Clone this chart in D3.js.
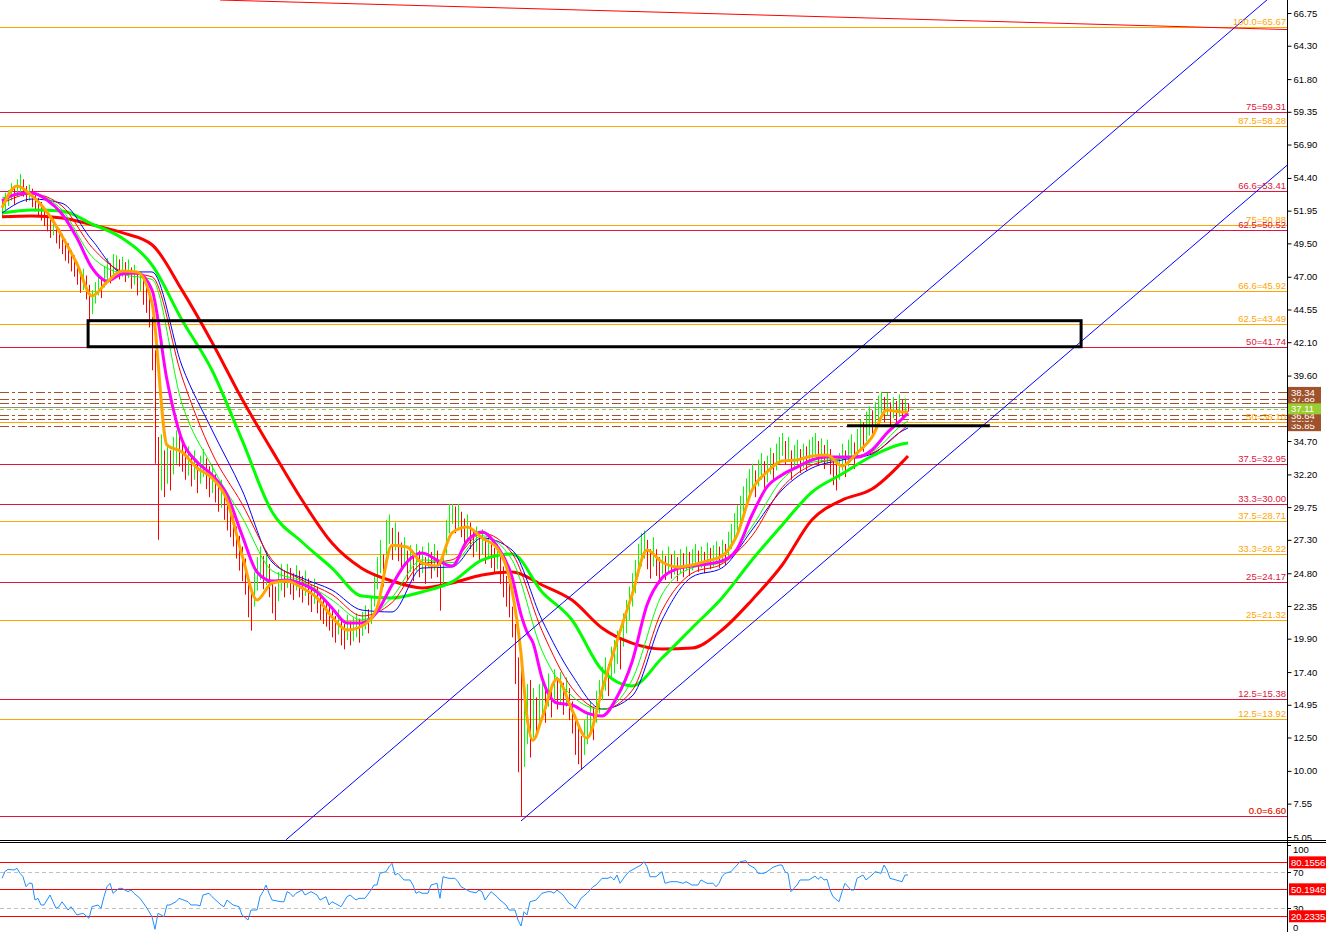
<!DOCTYPE html>
<html><head><meta charset="utf-8">
<script src="https://cdn.jsdelivr.net/npm/d3@7"></script>
<style>html,body{margin:0;padding:0;background:#fff;overflow:hidden}svg{display:block}</style>
</head><body>
<script>
// ---------------- DATA ----------------
const barHigh = [
52.8,53.3,53.5,54.0,53.7,54.3,54.7,54.3,53.8,53.9,
53.6,53.2,52.9,52.6,52.2,51.8,51.4,51.5,50.9,50.6,
50.2,49.8,49.5,49.0,48.6,48.1,47.5,47.6,47.1,46.4,
46.0,46.6,47.2,47.0,47.8,48.4,48.0,48.7,48.6,48.3,
48.5,48.1,48.3,47.7,47.9,47.3,47.4,46.8,46.2,45.6,
44.0,41.5,35.0,35.2,34.0,34.5,34.0,35.0,35.5,35.2,
34.6,34.0,34.3,33.5,34.0,33.0,33.6,34.1,33.4,32.8,
32.9,32.2,31.5,31.8,30.9,30.3,29.8,29.1,28.3,27.6,
26.8,25.9,24.5,23.6,24.9,26.0,26.8,26.1,26.4,25.5,
24.3,23.8,24.9,25.5,25.0,25.5,25.2,24.8,25.4,25.0,
24.6,25.0,24.4,23.9,24.4,23.8,23.3,23.0,22.8,22.5,
22.0,21.6,22.1,21.3,21.0,21.7,21.2,21.5,21.8,21.4,
21.9,22.4,22.1,23.0,24.7,26.0,27.3,26.2,28.8,29.2,
28.2,28.6,27.9,27.1,27.5,26.5,26.9,26.3,27.0,26.5,
26.8,26.0,27.1,26.4,27.0,26.5,25.6,26.4,28.8,30.0,
30.0,29.8,30.0,29.4,28.9,29.2,28.6,28.0,28.3,27.8,
28.1,27.4,27.8,27.1,26.7,27.0,26.0,25.3,24.6,24.0,
22.3,21.0,18.5,18.3,15.5,16.5,16.8,16.2,15.5,16.5,
16.8,16.2,17.3,16.5,17.6,17.0,17.4,16.6,17.0,16.2,
15.2,13.8,13.2,12.6,13.8,14.4,15.2,14.8,16.0,16.8,
17.8,18.5,18.0,19.3,19.8,20.5,20.0,21.8,22.8,23.8,
24.8,25.8,27.0,27.8,28.0,27.3,26.6,27.5,26.6,26.0,
26.5,26.1,26.8,26.2,26.5,26.0,26.6,26.3,26.8,26.4,
26.6,27.0,26.5,26.8,26.4,27.1,26.7,26.9,27.2,26.8,
27.3,27.0,27.9,28.5,29.3,29.9,30.6,31.3,31.9,32.6,
33.0,32.5,33.3,33.8,33.2,33.6,34.2,33.8,34.5,35.0,
35.3,34.7,35.0,34.0,34.4,34.8,34.1,34.5,34.3,34.8,
35.0,35.3,34.7,34.9,34.4,34.8,34.1,33.5,33.0,33.8,
34.5,34.0,34.8,35.2,34.6,35.6,36.3,36.1,36.9,37.3,
37.0,37.6,38.1,38.4,38.0,38.3,37.6,38.0,37.7,38.2,
37.8,37.9,37.5];
const barLow = [
51.5,52.0,52.3,52.7,52.4,53.0,53.3,53.0,52.6,52.7,
52.2,51.9,51.5,51.2,50.8,50.4,49.9,50.1,49.5,49.1,
48.7,48.2,48.0,47.4,47.0,46.4,45.8,46.0,45.3,43.6,
44.2,45.0,45.6,45.4,46.2,46.8,46.5,47.1,47.2,46.8,
47.0,46.6,46.9,46.1,46.4,45.6,45.9,44.9,44.3,43.2,
40.0,33.0,27.3,31.0,30.5,31.5,31.0,32.2,33.0,32.8,
32.4,31.8,32.1,31.3,31.8,30.8,31.5,32.0,31.1,30.5,
30.8,30.1,29.4,29.7,28.8,28.0,27.5,26.8,25.9,25.0,
24.2,23.2,21.5,20.5,22.3,23.5,24.3,23.6,23.9,23.0,
21.8,21.3,22.7,23.5,23.0,23.7,23.2,22.8,23.5,23.0,
22.6,23.1,22.4,21.9,22.5,21.8,21.3,21.0,20.8,20.5,
20.0,19.6,20.2,19.4,19.1,19.8,19.4,19.7,20.0,19.6,
20.1,20.6,20.3,21.0,22.3,23.6,24.8,23.8,26.2,27.0,
25.8,26.5,25.7,24.9,25.5,24.3,24.9,24.2,25.0,24.5,
24.8,24.0,25.2,24.4,25.0,24.5,22.0,24.0,26.2,27.8,
28.5,27.8,28.2,27.5,26.9,27.3,26.6,26.0,26.4,25.8,
26.2,25.5,25.9,25.2,24.8,25.1,24.0,23.0,22.3,21.5,
20.0,16.5,9.9,6.6,10.3,12.0,11.0,12.5,12.5,13.5,
14.2,13.6,14.8,14.0,15.2,14.6,15.0,14.2,14.8,13.8,
12.8,11.2,10.5,10.1,11.2,12.0,12.8,12.3,13.6,14.3,
15.3,16.0,15.6,16.8,17.3,18.0,17.6,19.3,20.3,21.3,
22.3,23.3,24.6,25.3,25.9,25.1,24.4,25.3,24.6,24.0,
24.7,24.3,24.9,24.4,24.7,24.2,24.8,24.5,25.0,24.6,
25.0,25.4,24.9,25.2,24.8,25.5,25.1,25.3,25.6,25.2,
25.7,25.4,26.1,26.6,27.2,27.8,28.5,29.2,29.8,30.5,
31.0,30.5,31.3,31.8,31.2,31.6,32.2,31.8,32.5,33.0,
33.6,32.9,33.3,31.8,32.6,33.0,32.3,32.7,32.5,33.0,
33.3,33.6,32.9,33.1,32.6,33.0,32.2,31.4,31.0,31.8,
32.5,32.0,32.8,33.2,32.6,33.4,34.1,33.9,34.7,35.1,
35.0,35.6,36.2,36.8,36.1,36.6,35.9,36.4,36.0,36.5,
36.3,36.6,36.9];

// moving averages (bar index samples)
const maFastIdx = [0,5,10,15,20,25,30,35,40,45,50,55,60,65,70,75,80,85,90,95,100,105,110,115,120,125,130,135,140,145,150,155,160,165,170,173,175,177,180,185,190,195,200,205,210,215,220,225,230,235,240,245,250,255,260,265,270,275,280,285,290,295,300,302];
const maOrange = [52.15,53.8,53.05,51.85,50.05,47.96,45.56,46.6,47.43,47.36,
45.03,34.4,33.88,32.68,31.93,30.28,26.17,22.8,24.07,24.22,
23.7,22.95,21.52,20.55,20.85,22.2,26.9,26.76,25.57,25.34,
27.82,28.26,27.44,26.69,23.54,18.8,14.04,12.3,13.96,16.88,14.56,12.46,
16.05,19.73,23.17,26.54,25.64,25.27,25.42,25.72,26.09,27.66,
31.03,32.38,33.2,33.28,33.58,33.65,32.83,33.8,35.0,37.02,36.87,36.87];
const maMagenta = [52.67,53.2,53.27,52.75,51.7,49.9,47.66,46.68,47.21,47.28,
46.01,39.27,34.78,33.13,32.16,30.66,27.66,24.89,24.22,24.3,
24.0,23.39,22.2,21.07,21.07,21.9,23.92,25.64,26.31,25.79,
25.34,27.21,27.89,26.84,24.52,21.7,20.4,19.6,16.96,15.08,14.93,14.33,
14.11,15.53,18.15,22.42,24.44,25.12,25.34,25.49,25.72,26.61,
29.16,31.26,32.16,32.75,33.28,33.5,33.5,33.5,34.03,35.3,36.35,36.8];
const maSlowIdx = [0,10,20,30,40,50,60,70,80,90,100,110,120,130,140,150,160,170,180,190,200,210,220,230,240,250,260,270,280,290,300,302];
const maThinGreen = [52.9,53.2,52.0,48.5,47.2,46.8,37.5,32.8,29.0,25.0,24.2,22.8,21.3,23.0,25.8,25.6,27.6,25.8,19.0,15.6,14.6,16.8,23.2,25.2,25.6,28.3,31.8,33.1,33.4,33.9,35.9,36.2];
const maThinRed = [52.5,53.2,52.3,49.2,47.4,47.0,39.5,33.8,30.0,25.8,24.3,23.2,21.6,22.6,25.5,25.8,27.8,26.3,20.5,16.2,14.6,16.0,22.0,24.8,25.5,27.6,31.2,32.9,33.4,33.8,35.5,35.9];
const maBlue = [51.77,52.82,52.5,49.75,47.36,47.36,40.32,35.53,31.03,25.64,24.44,23.54,22.04,21.9,25.19,25.27,27.44,26.54,21.3,17.18,14.63,15.6,21.3,24.52,25.2,28.04,31.03,32.68,33.28,33.73,35.45,35.68];
const maThickGreen = [51.77,52.0,51.92,50.95,49.9,47.88,43.76,40.0,34.78,29.4,27.14,25.19,23.1,22.95,23.4,24.15,25.79,26.24,23.4,21.3,17.55,16.36,18.45,20.7,22.95,25.79,28.4,30.88,32.23,33.58,34.48,34.55];
const maThickRed = [51.5,51.55,51.4,50.9,50.3,49.4,46.0,42.1,37.85,34.0,30.28,27.06,25.16,24.22,23.7,24.07,24.67,24.89,23.92,22.79,20.7,19.57,19.13,19.2,20.55,22.8,25.4,28.8,30.28,31.1,33.1,33.58];

// fibonacci sets
const fibRedLevels = ["0.0","12.5","25","33.3","37.5","50","62.5","66.6","75"];
const fibRedPrices = [6.60,15.38,24.17,30.00,32.95,41.74,50.52,53.41,59.31];
const fibOrangeLevels = ["0.0","12.5","25","33.3","37.5","50","62.5","66.6","75","87.5","100.0"];
const fibOrangePrices = [6.60,13.92,21.32,26.22,28.71,36.10,43.49,45.92,50.88,58.28,65.67];

// price levels near current price
const brownLevels = [37.57,37.88,38.34,35.85,36.37,36.64];
const currentPrice = 37.11;
const greyLine = 37.23;

// drawn objects: [barIndex, price]
const channelUpper = [[94.6,4.83],[421.6,67.72]];
const channelLower = [[173.0,6.25],[428.2,55.32]];
const topTrend = [[72.7,67.72],[428.3,65.51]];
const boxZone = [[28.7,43.71],[359.7,41.76]];
const supportSeg = [[281.7,35.85],[329.3,35.85]];

const priceTicks = [66.75,64.30,61.80,59.35,56.90,54.40,51.95,49.50,47.00,44.55,42.10,39.60,37.15,34.70,32.20,29.75,27.30,24.80,22.35,19.90,17.40,14.95,12.50,10.00,7.55,5.05];

// RSI [barIndex, value]
const rsi = [[0,62.4],[1,70],[2,72.4],[4,71.7],[5,73.5],[6,68],[7,64.2],[8,53.1],[9,56.9],[10,56.9],[11,38.3],[12,40.2],[13,32.8],[14,32.8],[16,43.9],[17,36.4],[18,29.1],[19,30.9],[20,36.4],[22,27.2],[23,30.9],[25,21.7],[27,23.6],[29,18],[30,30.9],[32,32.8],[33,29.1],[34,42],[35,53.1],[36,56.9],[37,45.8],[39,51.3],[40,51.3],[42,47.6],[43,49.4],[44,45.8],[46,40.2],[48,30.9],[50,19.8],[51,5.8],[52,23.6],[54,19.8],[55,32.8],[56,32.8],[58,36.4],[59,40.2],[62,36.4],[63,32.8],[65,32.8],[66,31.7],[67,43.9],[69,45.8],[70,42],[73,32.8],[74,30.9],[75,38.3],[77,32.8],[79,30.9],[80,21.7],[82,16.1],[83,27.2],[85,27.2],[86,42],[87,47.6],[88,55],[89,45.8],[90,38.3],[93,36.4],[94,36.4],[95,47.6],[96,45.8],[97,42],[98,45.8],[100,49.4],[101,43.9],[103,47.6],[105,43.9],[106,38.3],[108,42],[109,32.8],[110,36.4],[112,32.8],[113,30.9],[115,42],[116,43.9],[118,38.3],[119,40.2],[121,40.2],[123,49.4],[124,55],[125,55],[126,68],[128,69.8],[129,75.3],[130,79.1],[131,66.1],[132,68],[134,60.6],[136,60.6],[137,55],[138,45.8],[139,47.6],[140,45.8],[142,45.8],[143,55],[145,56.9],[146,40.2],[147,64.2],[149,62.4],[151,62.4],[152,58.7],[153,53.1],[154,51.3],[156,47.6],[158,46.4],[159,49.4],[160,47.6],[161,38.3],[163,47.6],[165,42],[166,38.3],[168,32.8],[169,27.2],[171,27.2],[172,16.1],[173,9.4],[174,25.3],[175,21.7],[176,36.4],[178,38.3],[180,45.8],[182,47.6],[183,47.6],[184,45.8],[185,49.4],[187,43.9],[189,34.7],[190,32.8],[191,29.1],[192,34.7],[193,40.2],[195,45.8],[197,53.1],[198,55],[200,62.4],[202,62.4],[203,64.2],[204,60.6],[205,66.1],[206,56.9],[208,66.1],[209,69.8],[211,73.5],[213,77.2],[214,80.9],[215,75.3],[216,64.2],[218,64.2],[220,69.8],[221,56.9],[223,58.7],[225,58.7],[227,56.9],[228,58.7],[230,55],[232,55],[233,60.6],[235,56.9],[237,56.9],[238,53.1],[239,56.9],[240,64.2],[241,68],[243,69.8],[245,77.2],[246,80.9],[248,82],[249,77.2],[251,73.5],[252,68],[254,68],[255,69.8],[257,74.7],[259,77.2],[260,77.2],[261,69.8],[262,68],[263,47.6],[265,55],[266,60.6],[268,60.6],[269,60.6],[271,65],[272,61.3],[273,64.2],[274,60.6],[275,61.3],[276,49.4],[277,42],[279,36.4],[280,47.6],[281,56.9],[283,49.4],[284,49.4],[285,62.4],[287,66.1],[288,60.6],[290,66.1],[291,69.8],[293,68],[294,77.2],[295,71.7],[296,62.4],[298,60.6],[300,58.7],[301,66.1],[302,66.1]];
const rsiLevels = [80.1556,50.1946,20.2335];
const rsiDashed = [70,30];
const rsiTicks = [100,70,30,0];

// ---------------- CHART ----------------
const W = 1326, H = 932, AX = 1287, MAIN_B = 840, RSI_T = 843;
const FONT = "'Liberation Sans', Arial, sans-serif";
const svg = d3.select("body").append("svg").attr("width", W).attr("height", H)
  .style("font-family", FONT).style("font-size", "9.5px");

const x = d3.scaleLinear().domain([0, 302]).range([2, 908]);
const y = d3.scaleLinear().domain([5.05, 66.75]).range([837, 13]);
const yr = d3.scaleLinear().domain([0, 100]).range([934.5, 844.5]);
const cy = v => Math.round(y(v)) + 0.5;
const cx = i => Math.round(x(i)) + 0.5;

const defs = svg.append("defs");
defs.append("clipPath").attr("id", "cm").append("rect").attr("x", 0).attr("y", 0).attr("width", AX).attr("height", MAIN_B);
defs.append("clipPath").attr("id", "cr").append("rect").attr("x", 0).attr("y", RSI_T).attr("width", AX).attr("height", H - RSI_T);

const gm = svg.append("g").attr("clip-path", "url(#cm)");

// fib lines
const RED = "#E0143C", ORANGE = "#FFA500";
fibOrangePrices.forEach(p => gm.append("line").attr("x1", 0).attr("x2", AX).attr("y1", cy(p)).attr("y2", cy(p)).attr("stroke", ORANGE));
fibRedPrices.forEach(p => gm.append("line").attr("x1", 0).attr("x2", AX).attr("y1", cy(p)).attr("y2", cy(p)).attr("stroke", RED));

// brown dash-dot levels, grey line, current price
brownLevels.forEach(p => gm.append("line").attr("x1", 0).attr("x2", AX).attr("y1", cy(p)).attr("y2", cy(p))
  .attr("stroke", "#A0522D").attr("stroke-dasharray", "9,3,3,3"));
gm.append("line").attr("x1", 0).attr("x2", AX).attr("y1", cy(greyLine)).attr("y2", cy(greyLine)).attr("stroke", "#8c8c8c");
gm.append("line").attr("x1", 0).attr("x2", AX).attr("y1", cy(currentPrice)).attr("y2", cy(currentPrice))
  .attr("stroke", "#9ACD32").attr("stroke-dasharray", "4,3");

// bars
gm.append("g").selectAll("line").data(barHigh).join("line")
  .attr("x1", (d, i) => cx(i)).attr("x2", (d, i) => cx(i))
  .attr("y1", (d, i) => y(barLow[i])).attr("y2", d => y(d))
  .attr("stroke", (d, i) => {
    if (i === 0) return "#00FF00";
    const m = (d + barLow[i]) / 2, pm = (barHigh[i - 1] + barLow[i - 1]) / 2;
    return m >= pm ? "#00FF00" : "#FF0000";
  }).attr("stroke-width", 1);

// moving averages
function ma(idx, vals, color, w) {
  const line = d3.line().x((d, i) => x(idx[i])).y(d => y(d)).curve(d3.curveMonotoneX);
  gm.append("path").attr("d", line(vals)).attr("fill", "none").attr("stroke", color).attr("stroke-width", w)
    .attr("stroke-linejoin", "round");
}
ma(maSlowIdx, maThickRed, "#FF0000", 3);
ma(maSlowIdx, maThickGreen, "#00FF00", 3);
ma(maSlowIdx, maBlue, "#0000FF", 1);
ma(maSlowIdx, maThinRed, "#FF0000", 1);
ma(maSlowIdx, maThinGreen, "#00FF00", 1);
ma(maFastIdx, maMagenta, "#FF00FF", 3);
ma(maFastIdx, maOrange, "#FFA500", 3);

function seg(sg, color, w) {
  gm.append("line").attr("x1", x(sg[0][0])).attr("y1", y(sg[0][1])).attr("x2", x(sg[1][0])).attr("y2", y(sg[1][1]))
    .attr("stroke", color).attr("stroke-width", w);
}
// lines start at their first anchor and extend to the right
function ray(sg, color, w) {
  const [a, b] = sg;
  const s = (b[1] - a[1]) / (b[0] - a[0]);
  const i1 = 480;
  gm.append("line").attr("x1", x(a[0])).attr("y1", y(a[1]))
    .attr("x2", x(i1)).attr("y2", y(a[1] + s * (i1 - a[0])))
    .attr("stroke", color).attr("stroke-width", w);
}
ray(channelUpper, "#0000FF", 1);
ray(channelLower, "#0000FF", 1);
ray(topTrend, "#FF0000", 1);

// zone rectangle & support segment
gm.append("rect").attr("x", x(boxZone[0][0])).attr("y", y(boxZone[0][1]))
  .attr("width", x(boxZone[1][0]) - x(boxZone[0][0])).attr("height", y(boxZone[1][1]) - y(boxZone[0][1]))
  .attr("fill", "none").attr("stroke", "#000").attr("stroke-width", 3);
seg(supportSeg, "#000", 3);

// fib labels
function fibLabels(levels, prices, color) {
  prices.forEach((p, i) => gm.append("text").attr("x", AX - 1).attr("y", Math.round(y(p)) - 2)
    .attr("text-anchor", "end").attr("fill", color).text(levels[i] + "=" + p.toFixed(2)));
}
fibLabels(fibOrangeLevels, fibOrangePrices, ORANGE);
fibLabels(fibRedLevels, fibRedPrices, RED);

// panel borders
svg.append("line").attr("x1", 0).attr("x2", W).attr("y1", MAIN_B + 0.5).attr("y2", MAIN_B + 0.5).attr("stroke", "#000");
svg.append("line").attr("x1", 0).attr("x2", W).attr("y1", MAIN_B + 2.5).attr("y2", MAIN_B + 2.5).attr("stroke", "#000");

// right price axis
const axis = d3.axisRight(y).tickValues(priceTicks).tickFormat(d3.format(".2f")).tickSize(4).tickPadding(2);
const ga = svg.append("g").attr("transform", `translate(${AX + 0.5},0)`).call(axis);
ga.select(".domain").remove();
ga.selectAll("text").attr("font-family", FONT).attr("font-size", "9.5px").attr("fill", "#000");
ga.selectAll("line").attr("stroke", "#000");
svg.append("line").attr("x1", AX + 0.5).attr("x2", AX + 0.5).attr("y1", 0).attr("y2", H).attr("stroke", "#000");

// price boxes
function box(p, bg) {
  const yy = y(p);
  svg.append("rect").attr("x", AX + 1).attr("y", yy - 5.5).attr("width", 33).attr("height", 11).attr("fill", bg);
  svg.append("text").attr("x", AX + 4).attr("y", yy + 3.5).attr("fill", "#fff").text(p.toFixed(2));
}
brownLevels.forEach(p => box(p, "#A0522D"));
box(currentPrice, "#9ACD32");

// ---------------- RSI ----------------
const gr = svg.append("g").attr("clip-path", "url(#cr)");
rsiDashed.forEach(v => gr.append("line").attr("x1", 0).attr("x2", AX).attr("y1", Math.round(yr(v)) + 0.5).attr("y2", Math.round(yr(v)) + 0.5)
  .attr("stroke", "#c0c0c0").attr("stroke-dasharray", "4,3"));
rsiLevels.forEach(v => gr.append("line").attr("x1", 0).attr("x2", AX).attr("y1", Math.round(yr(v)) + 0.5).attr("y2", Math.round(yr(v)) + 0.5)
  .attr("stroke", "#FF0000"));
gr.append("path").attr("d", d3.line().x(d => x(d[0])).y(d => yr(d[1]))(rsi))
  .attr("fill", "none").attr("stroke", "#1E90FF").attr("stroke-width", 1);

// RSI axis labels
const rsiLabelY = {100: 849, 70: 872, 30: 908, 0: 927};
rsiTicks.forEach(v => {
  svg.append("line").attr("x1", AX).attr("x2", AX + 4).attr("y1", Math.round(yr(v)) + 0.5).attr("y2", Math.round(yr(v)) + 0.5).attr("stroke", "#000");
  svg.append("text").attr("x", AX + 6).attr("y", rsiLabelY[v] + 3.5).attr("fill", "#000").text(v);
});
rsiLevels.forEach(v => {
  const yy = yr(v);
  svg.append("rect").attr("x", AX + 2).attr("y", yy - 6).attr("width", 38).attr("height", 12).attr("fill", "#FF0000");
  svg.append("text").attr("x", AX + 4).attr("y", yy + 3.5).attr("fill", "#fff").text(v.toFixed(4));
});
</script>
</body></html>
